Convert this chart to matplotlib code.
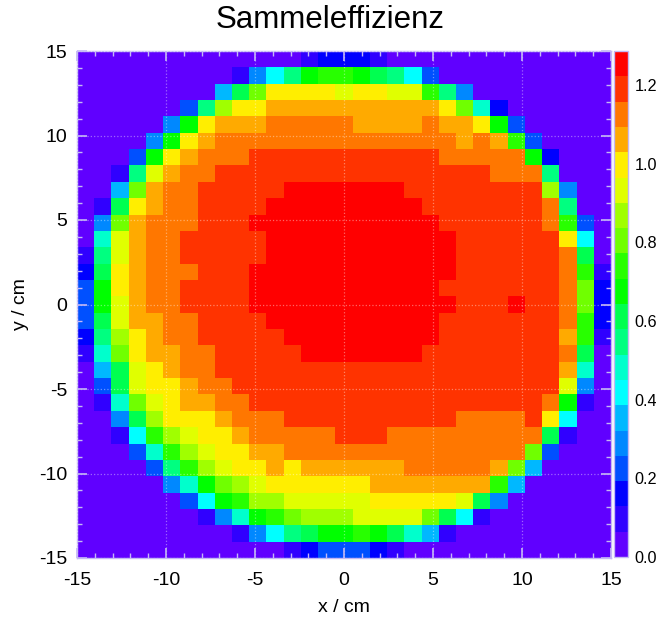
import matplotlib
matplotlib.use('Agg')
import matplotlib.pyplot as plt
from matplotlib.colors import ListedColormap, Normalize
from matplotlib.ticker import MultipleLocator
import numpy as np

plt.rcParams['font.family'] = ['Liberation Sans', 'DejaVu Sans']
plt.rcParams['axes.unicode_minus'] = False

# colour bands of the scale, bottom to top
band_colors = ['#6000ff', '#3000ff', '#0000ff', '#0050ff', '#0088ff', '#00b8ff', '#00ffff',
               '#00ffcc', '#00ff80', '#00ff50', '#00ff00', '#28ff00', '#70ff00', '#a0ff00',
               '#e0ff00', '#ffee00', '#ffaa00', '#ff7700', '#ff3300', '#ff0000']
z_max = 1.287
cbar_ticks = [0.0, 0.2, 0.4, 0.6, 0.8, 1.0, 1.2]
major_ticks = [-15, -10, -5, 0, 5, 10, 15]

# band number of every cell, first row is the top one (y = 15)
bands = [
    [0,0,0,0,0,0,0,0,0,0,0,0,0,1,2,2,2,1,0,0,0,0,0,0,0,0,0,0,0,0,0],
    [0,0,0,0,0,0,0,0,0,1,4,6,8,10,11,11,10,9,8,6,3,0,0,0,0,0,0,0,0,0,0],
    [0,0,0,0,0,0,0,0,5,9,12,15,15,15,15,14,15,15,14,14,11,8,4,0,0,0,0,0,0,0,0],
    [0,0,0,0,0,0,3,8,13,15,15,16,16,16,16,16,16,16,16,16,16,15,12,7,2,0,0,0,0,0,0],
    [0,0,0,0,0,4,10,15,16,16,16,17,17,17,17,17,16,16,16,16,17,16,16,15,10,3,0,0,0,0,0],
    [0,0,0,0,4,10,15,16,17,17,17,17,17,17,17,17,17,17,17,17,17,17,16,17,16,11,3,0,0,0,0],
    [0,0,0,3,10,15,16,17,17,17,18,18,18,18,18,18,18,18,18,18,18,17,17,17,17,17,10,2,0,0,0],
    [0,0,1,8,14,16,17,17,18,18,18,18,18,18,18,18,18,18,18,18,18,18,18,18,17,17,17,8,0,0,0],
    [0,0,5,12,16,17,17,18,18,18,18,18,19,19,19,19,19,19,19,18,18,18,18,18,18,18,18,13,4,0,0],
    [0,1,9,15,16,17,17,18,18,18,18,19,19,19,19,19,19,19,19,19,18,18,18,18,18,18,18,17,8,0,0],
    [0,4,12,16,17,17,17,18,18,18,19,19,19,19,19,19,19,19,19,19,19,18,18,18,18,18,18,17,11,3,0],
    [0,7,14,16,17,17,18,18,18,18,18,19,19,19,19,19,19,19,19,19,19,19,18,18,18,18,18,18,15,6,0],
    [1,8,14,16,17,17,18,18,18,18,18,19,19,19,19,19,19,19,19,19,19,19,18,18,18,18,18,18,17,9,0],
    [2,9,15,16,17,17,17,18,18,18,19,19,19,19,19,19,19,19,19,19,19,19,18,18,18,18,18,18,17,11,1],
    [3,10,15,16,17,17,18,18,18,18,19,19,19,19,19,19,19,19,19,19,19,18,18,18,18,18,18,18,17,12,2],
    [3,10,14,16,17,17,18,18,18,18,19,19,19,19,19,19,19,19,19,19,19,19,18,18,18,19,18,18,17,12,2],
    [3,9,14,16,16,17,17,18,18,18,18,19,19,19,19,19,19,19,19,19,19,18,18,18,18,18,18,18,17,11,2],
    [2,8,13,15,16,17,17,18,18,18,18,18,19,19,19,19,19,19,19,19,19,18,18,18,18,18,18,18,16,11,1],
    [1,7,12,15,16,16,17,17,18,18,18,18,18,19,19,19,19,19,19,19,18,18,18,18,18,18,18,18,17,9,0],
    [0,5,9,14,15,16,17,17,18,18,18,18,18,18,18,18,18,18,18,18,18,18,18,18,18,18,18,18,16,7,0],
    [0,3,9,14,15,15,16,17,17,18,18,18,18,18,18,18,18,18,18,18,18,18,18,18,18,18,18,18,14,4,0],
    [0,1,7,12,14,15,16,16,17,17,18,18,18,18,18,18,18,18,18,18,18,18,18,18,18,18,18,17,10,1,0],
    [0,0,4,9,13,15,15,15,16,17,17,17,18,18,18,18,18,18,18,18,18,18,17,17,17,17,18,15,6,0,0],
    [0,0,1,6,11,13,14,15,15,16,17,17,17,17,17,18,18,18,17,17,17,17,17,17,17,17,17,9,1,0,0],
    [0,0,0,3,7,11,13,14,15,15,16,16,17,17,17,17,17,17,17,17,17,17,17,17,17,17,12,3,0,0,0],
    [0,0,0,0,3,8,11,13,14,15,15,16,15,16,16,16,16,16,16,17,17,17,17,17,16,12,5,0,0,0,0],
    [0,0,0,0,0,4,7,10,12,13,14,15,15,15,15,15,15,16,16,16,16,16,16,16,11,5,0,0,0,0,0],
    [0,0,0,0,0,0,3,6,10,11,13,13,14,14,14,14,14,15,15,15,15,15,14,9,4,0,0,0,0,0,0],
    [0,0,0,0,0,0,0,1,4,7,10,11,12,13,13,13,14,14,14,14,12,9,6,1,0,0,0,0,0,0,0],
    [0,0,0,0,0,0,0,0,0,1,4,6,8,9,10,10,11,10,9,7,5,1,0,0,0,0,0,0,0,0,0],
    [0,0,0,0,0,0,0,0,0,0,0,0,1,2,3,3,3,2,1,0,0,0,0,0,0,0,0,0,0,0,0],
]

step = z_max / len(band_colors)
z = (np.array(bands) + 0.5) * step
edges = np.linspace(-15, 15, z.shape[0] + 1)

cmap = ListedColormap(band_colors)
norm = Normalize(0, z_max)

fig = plt.figure(figsize=(6.56, 6.22), dpi=100)
ax = fig.add_axes([77 / 656, 1 - 558 / 622, 534 / 656, 507 / 622])
mesh = ax.pcolormesh(edges, edges[::-1], z, cmap=cmap, norm=norm, linewidth=0, rasterized=True)

frame = '#c4b8f4'
ax.set_xlim(-15, 15)
ax.set_ylim(-15, 15)
ax.set_xticks(major_ticks)
ax.set_yticks(major_ticks)
ax.xaxis.set_minor_locator(MultipleLocator(1))
ax.yaxis.set_minor_locator(MultipleLocator(1))
ax.grid(True, which='major', color='white', alpha=0.4, linestyle=':', linewidth=0.9)
ax.set_axisbelow(False)
ax.tick_params(which='major', direction='in', top=True, right=True, length=7, width=1.2,
               color=frame, labelsize=14, labelcolor='black')
ax.tick_params(which='minor', direction='in', top=True, right=True, length=3.5, width=1, color=frame)
ax.tick_params(axis='x', which='major', pad=10)
ax.tick_params(axis='y', which='major', pad=7)
for spine in ax.spines.values():
    spine.set_color(frame)
    spine.set_linewidth(1)

ax.set_xlabel('x / cm', fontsize=14, labelpad=7)
ax.set_ylabel('y / cm', fontsize=14, labelpad=7)
fig.text(330 / 656, 1 - 20 / 622, 'Sammeleffizienz', fontsize=22.5, ha='center', va='center')

cax = fig.add_axes([613.5 / 656, 1 - 557 / 622, 14 / 656, 506 / 622])
cbar = fig.colorbar(mesh, cax=cax, ticks=cbar_ticks)
cbar.ax.set_yticklabels(['%.1f' % t for t in cbar_ticks])
cbar.ax.tick_params(length=0, labelsize=11.7, pad=5)
cbar.outline.set_edgecolor(frame)
cbar.outline.set_linewidth(1)

fig.savefig('out.png', dpi=100)
